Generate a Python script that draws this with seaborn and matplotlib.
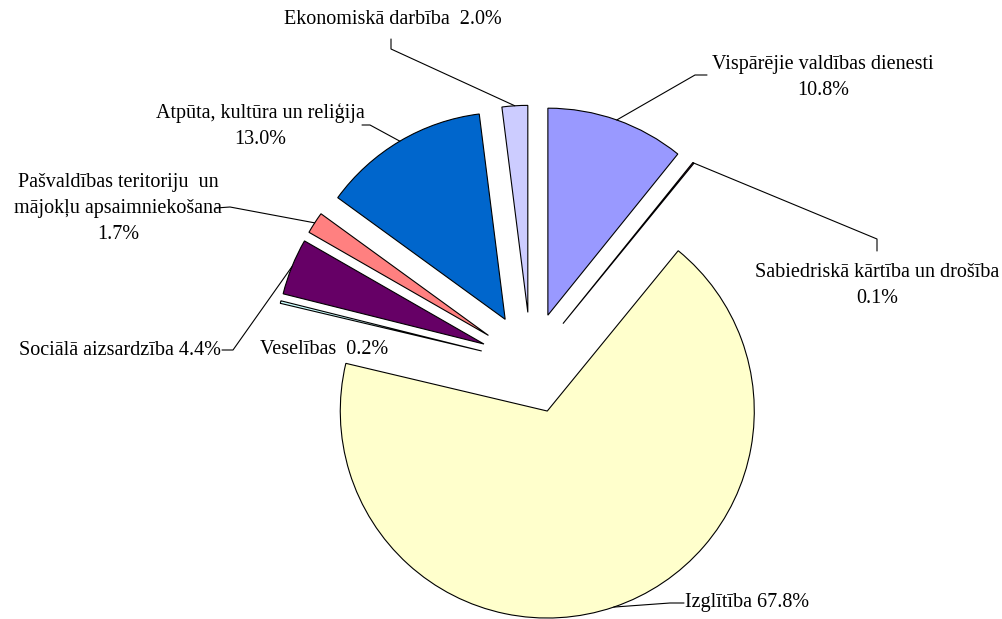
import numpy as np
import matplotlib
matplotlib.use('Agg')
import matplotlib.pyplot as plt
import seaborn as sns

#------------------------------------------
labels=['Vispārējie valdības dienesti', 'Sabiedriskā kārtība un drošība', 'Izglītība',
        'Veselības', 'Sociālā aizsardzība', 'Pašvaldības teritoriju  un mājokļu apsaimniekošana',
        'Atpūta, kultūra un reliģija', 'Ekonomiskā darbība']
shares=[10.8, 0.1, 67.8, 0.2, 4.4, 1.7, 13.0, 2.0]
colors=['#9999FF', '#993366', '#FFFFCC', '#CCFFFF', '#660066', '#FF8080', '#0066CC', '#CCCCFF']

W, H=1003, 619

#####################################################
sns.set_theme(style='white')
plt.rcParams['font.family']=['Liberation Serif', 'DejaVu Serif']

fig=plt.figure(figsize=(W/100, H/100), dpi=100)
ax=fig.add_axes([0, 0, 1, 1])

R=207
ctr=(531, H-363)
#explode is in data units, so scale by radius
wedges, _=ax.pie(shares, colors=colors, startangle=90, counterclock=False,
                 radius=R, center=ctr, explode=[0.245*R]*len(shares),
                 wedgeprops=dict(edgecolor='black', linewidth=0.8))
ax.set_xlim(0, W)
ax.set_ylim(0, H)
ax.set_aspect('equal')
ax.axis('off')

def arc_mid(w):
    a=np.deg2rad((w.theta1+w.theta2)/2)
    cx, cy=w.center
    return cx+w.r*np.cos(a), cy+w.r*np.sin(a)

def P(x, y):
    return x, H-y

#label text, text pos (px), leader kink points (px, from label side)
ann=[
    (f'{labels[0]}\n{shares[0]:.1f}%', (823, 77), [(707, 75), (695, 75)]),
    (f'{labels[1]}\n{shares[1]:.1f}%', (877, 285), [(877, 251), (877, 239)]),
    (f'{labels[2]} {shares[2]:.1f}%', (747, 603), [(684, 603), (670, 603)]),
    (f'{labels[3]}  {shares[3]:.1f}%', (324, 349), None),
    (f'{labels[4]} {shares[4]:.1f}%', (120, 350), [(222, 350), (233, 350)]),
    ('Pašvaldības teritoriju  un\nmājokļu apsaimniekošana\n' + f'{shares[5]:.1f}%', (118, 208), [(216, 208), (230, 207)]),
    ('Atpūta, kultūra un reliģija\n' + f'{shares[6]:.1f}%', (260, 126), [(362, 125), (370, 125)]),
    (f'{labels[7]}  {shares[7]:.1f}%', (393, 19), [(391, 39), (391, 49)]),
]

for w, (txt, pos, kinks) in zip(wedges, ann):
    ax.text(*P(*pos), txt, ha='center', va='center', multialignment='center',
            fontsize=14.5, linespacing=1.5, color='black')
    if kinks is None:
        continue
    pts=[P(*k) for k in kinks]+[arc_mid(w)]
    xs, ys=zip(*pts)
    ax.plot(xs, ys, color='black', linewidth=0.8)

plt.savefig('out.png', dpi=100)
plt.close()
